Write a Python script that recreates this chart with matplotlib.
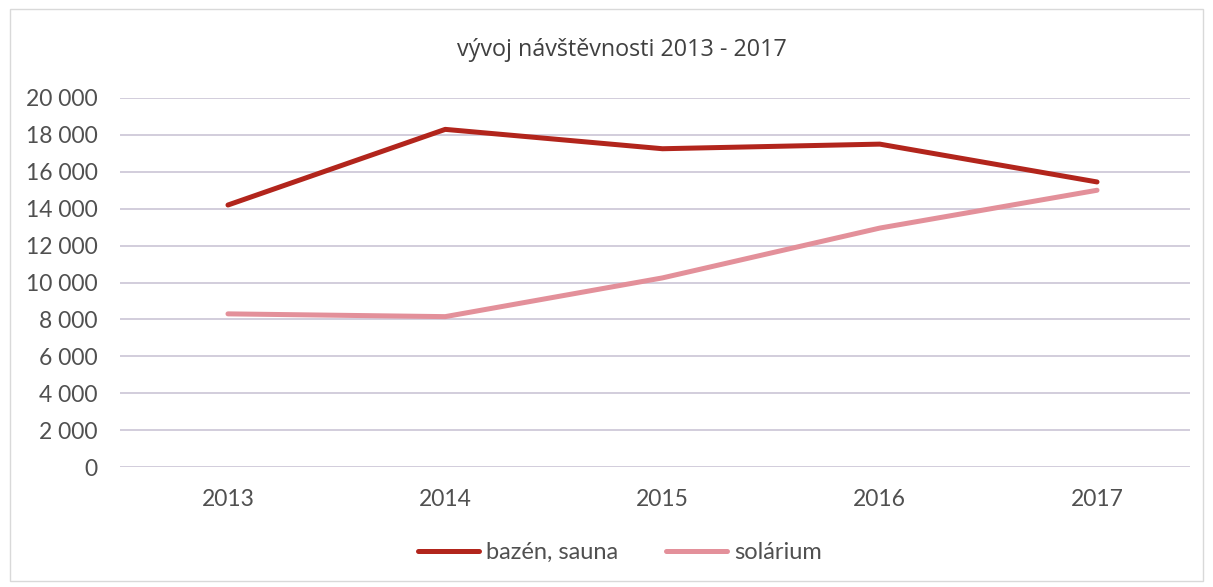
import matplotlib.pyplot as plt
from matplotlib.ticker import FuncFormatter

years = ["2013", "2014", "2015", "2016", "2017"]
bazen_sauna = [14200, 18300, 17250, 17500, 15450]
solarium = [8300, 8150, 10250, 12950, 15000]
y_ticks = list(range(0, 20001, 2000))

DARK_RED = "#b2251c"
PINK = "#e3909a"
GREY = "#505050"

plt.rcParams["font.family"] = ["Lato", "DejaVu Sans"]

fig = plt.figure(figsize=(12.13, 5.87), dpi=100)
ax = fig.add_axes([120 / 1213, 1 - 467 / 587, (1190 - 120) / 1213, (467 - 98) / 587])

x = list(range(len(years)))
ax.plot(x, bazen_sauna, color=DARK_RED, lw=3.6, solid_capstyle="round", label="bazén, sauna", zorder=3)
ax.plot(x, solarium, color=PINK, lw=3.6, solid_capstyle="round", label="solárium", zorder=3)

ax.set_xlim(-0.497, 4.428)
ax.set_ylim(0, 20000)
ax.set_xticks(x)
ax.set_xticklabels(years)
ax.set_yticks(y_ticks)
ax.yaxis.set_major_formatter(FuncFormatter(lambda v, p: f"{int(v):,}".replace(",", " ")))
ax.grid(axis="y", color="#cbc5d6", lw=1.2)
ax.tick_params(length=0, labelsize=16.5, colors=GREY, labelcolor=GREY)
ax.tick_params(axis="x", pad=16)
ax.tick_params(axis="y", pad=16)
for s in ax.spines.values():
    s.set_visible(False)

fig.text(0.513, 1 - 50 / 587, "vývoj návštěvnosti 2013 - 2017", ha="center", va="center",
         fontsize=16.8, color="#404040", family=["Open Sans", "DejaVu Sans"])

ax.legend(loc="center", bbox_to_anchor=((620 - 120) / 1070, -0.232), ncol=2, frameon=False,
          fontsize=17, labelcolor=GREY, handlelength=2.6, handletextpad=0.3, columnspacing=2.0)

# light frame around chart area
fig.patches.append(plt.Rectangle((10 / 1213, 0.01), 1 - 20 / 1213, 0.975, transform=fig.transFigure,
                                 fill=False, ec="#d9d9d9", lw=1))

fig.savefig("out.png", dpi=100)
